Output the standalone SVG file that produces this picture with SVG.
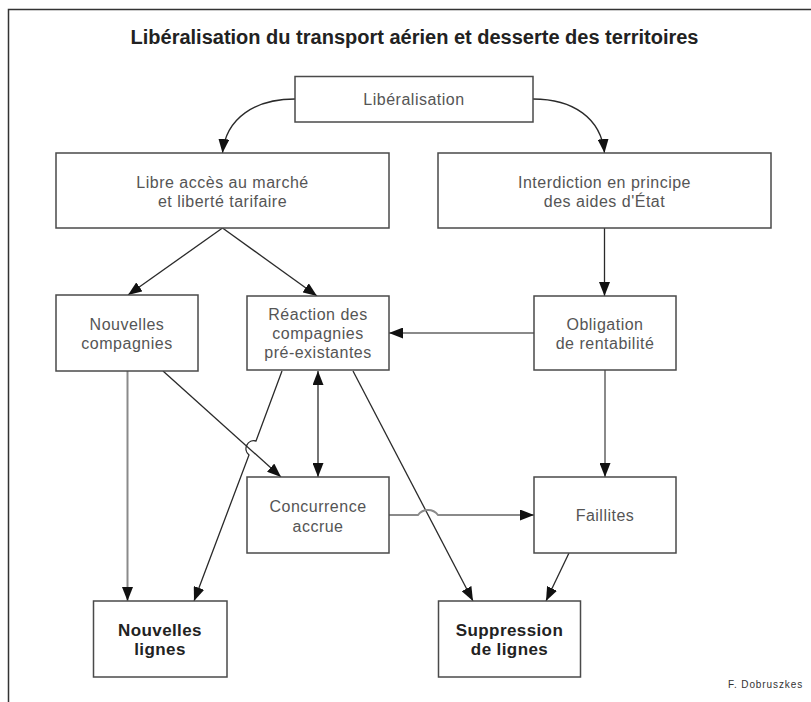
<svg xmlns="http://www.w3.org/2000/svg" width="811" height="702" viewBox="0 0 811 702">
  <style>
    .box { fill: #fff; stroke: #4a4a4a; stroke-width: 1.5; }
    .lbl { font-family: "Liberation Sans", Arial, sans-serif; font-size: 16px; letter-spacing: 0.5px; fill: #555; text-anchor: middle; }
    .bold { font-family: "Liberation Sans", Arial, sans-serif; font-size: 17px; font-weight: bold; letter-spacing: 0.4px; fill: #222; text-anchor: middle; }
    .title { font-family: "Liberation Sans", Arial, sans-serif; font-size: 20px; font-weight: bold; fill: #222; text-anchor: middle; }
    .credit { font-family: "Liberation Sans", Arial, sans-serif; font-size: 10px; letter-spacing: 0.9px; fill: #333; }
    .dk { fill: none; stroke: #2a2a2a; stroke-width: 1.3; }
    .gy { fill: none; stroke: #8a8a8a; stroke-width: 2; }
  </style>
  <defs>
    <marker id="arrow" markerUnits="userSpaceOnUse" markerWidth="14" markerHeight="11" refX="14" refY="5.5" orient="auto-start-reverse">
      <path d="M0,0 L14,5.5 L0,11 Z" fill="#111"/>
    </marker>
  </defs>

  <rect width="811" height="702" fill="#fff"/>
  <!-- outer frame -->
  <path d="M8.5,712 V9.5 H820" fill="none" stroke="#333" stroke-width="1.5"/>

  <text class="title" x="414.5" y="44">Libéralisation du transport aérien et desserte des territoires</text>

  <g id="connectors">
    <path class="dk" d="M295,99 C255,99 226,118 222.5,153" marker-end="url(#arrow)"/>
    <path class="dk" d="M533,99 C573,99 601,118 604.5,153" marker-end="url(#arrow)"/>
    <line class="dk" x1="222.5" y1="228" x2="128" y2="295" marker-end="url(#arrow)"/>
    <line class="dk" x1="222.5" y1="228" x2="317" y2="296" marker-end="url(#arrow)"/>
    <line class="dk" x1="604.5" y1="228" x2="604.5" y2="296" stroke-width="2" marker-end="url(#arrow)"/>
    <line class="gy" x1="534" y1="333" x2="389" y2="333" marker-end="url(#arrow)"/>
    <line class="gy" x1="127.5" y1="371" x2="127.5" y2="601" marker-end="url(#arrow)"/>
    <line class="dk" x1="163" y1="371" x2="281" y2="477" marker-end="url(#arrow)"/>
    <path class="dk" d="M282,371 L256,441 A8,8 0 0 0 249,455 L194,601" marker-end="url(#arrow)"/>
    <line class="dk" x1="318" y1="371" x2="318" y2="477" stroke-width="1.6" marker-start="url(#arrow)" marker-end="url(#arrow)"/>
    <line class="dk" x1="353" y1="371" x2="473" y2="601" marker-end="url(#arrow)"/>
    <line class="gy" x1="605" y1="370" x2="605" y2="477" marker-end="url(#arrow)"/>
    <path class="gy" d="M389,515 L418,515 A12.5,12.5 0 0 1 438,515 L534,515" marker-end="url(#arrow)"/>
    <line class="dk" x1="569" y1="553" x2="546" y2="601" marker-end="url(#arrow)"/>
  </g>

  <g id="liberalisation">
    <rect class="box" x="295" y="76.5" width="238" height="45.5"/>
    <text class="lbl" x="414" y="105">Libéralisation</text>
  </g>
  <g id="libre-acces">
    <rect class="box" x="56" y="153" width="333" height="75"/>
    <text class="lbl" x="222.5" y="187.5">Libre accès au marché</text>
    <text class="lbl" x="222.5" y="207">et liberté tarifaire</text>
  </g>
  <g id="interdiction">
    <rect class="box" x="438" y="153" width="333" height="75"/>
    <text class="lbl" x="604.5" y="187.5">Interdiction en principe</text>
    <text class="lbl" x="604.5" y="207">des aides d'État</text>
  </g>
  <g id="nouvelles-compagnies">
    <rect class="box" x="56" y="295" width="142" height="76"/>
    <text class="lbl" x="127" y="330">Nouvelles</text>
    <text class="lbl" x="127" y="349">compagnies</text>
  </g>
  <g id="reaction">
    <rect class="box" x="247" y="296" width="142" height="74"/>
    <text class="lbl" x="318" y="320">Réaction des</text>
    <text class="lbl" x="318" y="339">compagnies</text>
    <text class="lbl" x="318" y="358">pré-existantes</text>
  </g>
  <g id="obligation">
    <rect class="box" x="534" y="296" width="142" height="74"/>
    <text class="lbl" x="605" y="330">Obligation</text>
    <text class="lbl" x="605" y="349">de rentabilité</text>
  </g>
  <g id="concurrence">
    <rect class="box" x="247" y="477" width="142" height="76"/>
    <text class="lbl" x="318" y="512">Concurrence</text>
    <text class="lbl" x="318" y="531.5">accrue</text>
  </g>
  <g id="faillites">
    <rect class="box" x="534" y="477" width="142" height="76"/>
    <text class="lbl" x="605" y="521">Faillites</text>
  </g>
  <g id="nouvelles-lignes">
    <rect class="box" x="93.5" y="601" width="133.5" height="76"/>
    <text class="bold" x="160" y="636">Nouvelles</text>
    <text class="bold" x="160" y="655">lignes</text>
  </g>
  <g id="suppression">
    <rect class="box" x="438.5" y="601" width="142" height="76"/>
    <text class="bold" x="509.5" y="636">Suppression</text>
    <text class="bold" x="509.5" y="655">de lignes</text>
  </g>

  <text class="credit" x="728" y="688">F. Dobruszkes</text>
</svg>
